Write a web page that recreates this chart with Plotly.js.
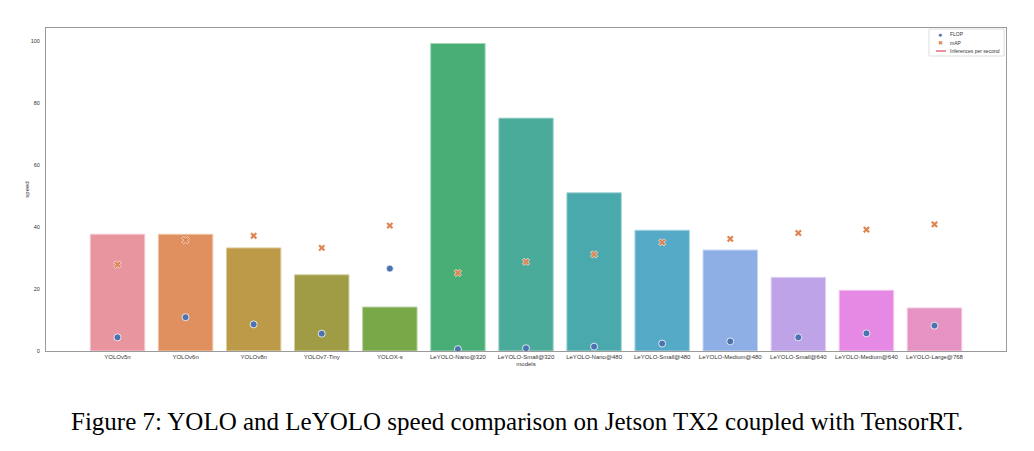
<!DOCTYPE html>
<html>
<head>
<meta charset="utf-8">
<script src="https://cdn.plot.ly/plotly-3.0.1.min.js"></script>
<style>html,body{margin:0;padding:0;background:#fff;}#chart{width:1034px;height:451px;}</style>
</head>
<body>
<div id="chart"></div>
<script>
const models = ["YOLOv5n","YOLOv6n","YOLOv8n","YOLOv7-Tiny","YOLOX-s","LeYOLO-Nano@320","LeYOLO-Small@320","LeYOLO-Nano@480","LeYOLO-Small@480","LeYOLO-Medium@480","LeYOLO-Small@640","LeYOLO-Medium@640","LeYOLO-Large@768"];
const inferencesPerSecond = [37.7,37.7,33.3,24.6,14.2,99.3,75.2,51.1,39.0,32.6,23.8,19.6,13.9];
const mAP = [27.9,35.8,37.2,33.3,40.5,25.2,28.8,31.2,35.1,36.2,38.1,39.2,40.9];
const flop = [4.4,10.9,8.6,5.6,26.6,0.6,0.9,1.4,2.4,3.1,4.4,5.7,8.2];
const barColors = ["#e8959f","#e0905f","#bd9a48","#a09c45","#79a848","#48ae75","#4aab9a","#4aa9ac","#55aac8","#8eaee6","#bfa3e8","#e589e5","#e693c3"];
const edgeColors = ["#f3c9ce","#f0c7ae","#dfcda3","#d0cea2","#bcd4a3","#a3d7ba","#a5d5cd","#a5d4d6","#aad5e4","#c7d7f3","#dfd1f4","#f2c4f2","#f3c9e1"];
const yTicks = [0,20,40,60,80,100];
const legendLabels = ["FLOP","mAP","Inferences per second"];

const traces = [
  {type:"bar", x:models, y:inferencesPerSecond, width:0.8,
   marker:{color:barColors, line:{color:edgeColors, width:1}},
   showlegend:false, hoverinfo:"x+y"},
  {type:"scatter", mode:"markers", name:legendLabels[0], x:models, y:flop, showlegend:false,
   marker:{symbol:"circle", size:7, color:"#4c72b0", line:{color:"#ffffff", width:0.8}}},
  {type:"scatter", mode:"markers", name:legendLabels[1], x:models, y:mAP, showlegend:false,
   marker:{symbol:"x", size:6.5, color:"#dd8452", line:{color:"#ffffff", width:0.6}}}
];

// custom compact legend (paper coordinates)
const lgRows = [0.9814, 0.9536, 0.9288];
const lgSym = 0.9313, lgText = 0.9396;
const annotations = [
  {xref:"paper", yref:"paper", x:lgSym, y:lgRows[0], text:"●", showarrow:false,
   xanchor:"center", yanchor:"middle", font:{size:7, color:"#4c72b0"}},
  {xref:"paper", yref:"paper", x:lgSym, y:lgRows[1], text:"✖", showarrow:false,
   xanchor:"center", yanchor:"middle", font:{size:6, color:"#dd8452"}},
  {xref:"paper", yref:"paper", x:0.4906, y:-0.217, xanchor:"center", yanchor:"middle",
    text:"Figure 7: YOLO and LeYOLO speed comparison on Jetson TX2 coupled with TensorRT.",
    showarrow:false, font:{family:"Liberation Serif, Times New Roman, serif", size:25, color:"#000000"}}
];
legendLabels.forEach((t,i)=>annotations.push({xref:"paper", yref:"paper", x:lgText, y:lgRows[i], text:t,
  showarrow:false, xanchor:"left", yanchor:"middle", font:{size:5, color:"#333333"}}));

const shapes = [
  {type:"rect", xref:"paper", yref:"paper", x0:0.9198, x1:0.998, y0:0.9133, y1:0.9969,
   line:{color:"#dddddd", width:1}, fillcolor:"#ffffff", layer:"above"},
  {type:"line", xref:"paper", yref:"paper", x0:0.9271, x1:0.9375, y0:lgRows[2], y1:lgRows[2],
   line:{color:"#ef8f9f", width:2}, layer:"above"}
];

const layout = {
  width:1034, height:451,
  margin:{l:46, r:28, t:28, b:100},
  paper_bgcolor:"#ffffff", plot_bgcolor:"#ffffff",
  font:{family:"Liberation Sans, Arial, sans-serif", size:6, color:"#333333"},
  showlegend:false,
  xaxis:{type:"category", range:[-1.05, 12+1.05], showgrid:false, zeroline:false,
    showline:true, linecolor:"#9a9a9a", linewidth:1, mirror:true, ticks:"",
    tickfont:{size:6, color:"#333333"},
    title:{text:"models", font:{size:6, color:"#333333"}, standoff:2}},
  yaxis:{range:[0,104.3], tickvals:yTicks, ticktext:yTicks.map(String), showgrid:false, zeroline:false,
    showline:true, linecolor:"#9a9a9a", linewidth:1, mirror:true, ticks:"",
    ticklabelstandoff:4,
    tickfont:{size:5.5, color:"#333333"},
    title:{text:"speed", font:{size:6, color:"#333333"}, standoff:0}},
  shapes:shapes,
  annotations:annotations
};

Plotly.newPlot("chart", traces, layout, {displayModeBar:false, staticPlot:true});
</script>
</body>
</html>
